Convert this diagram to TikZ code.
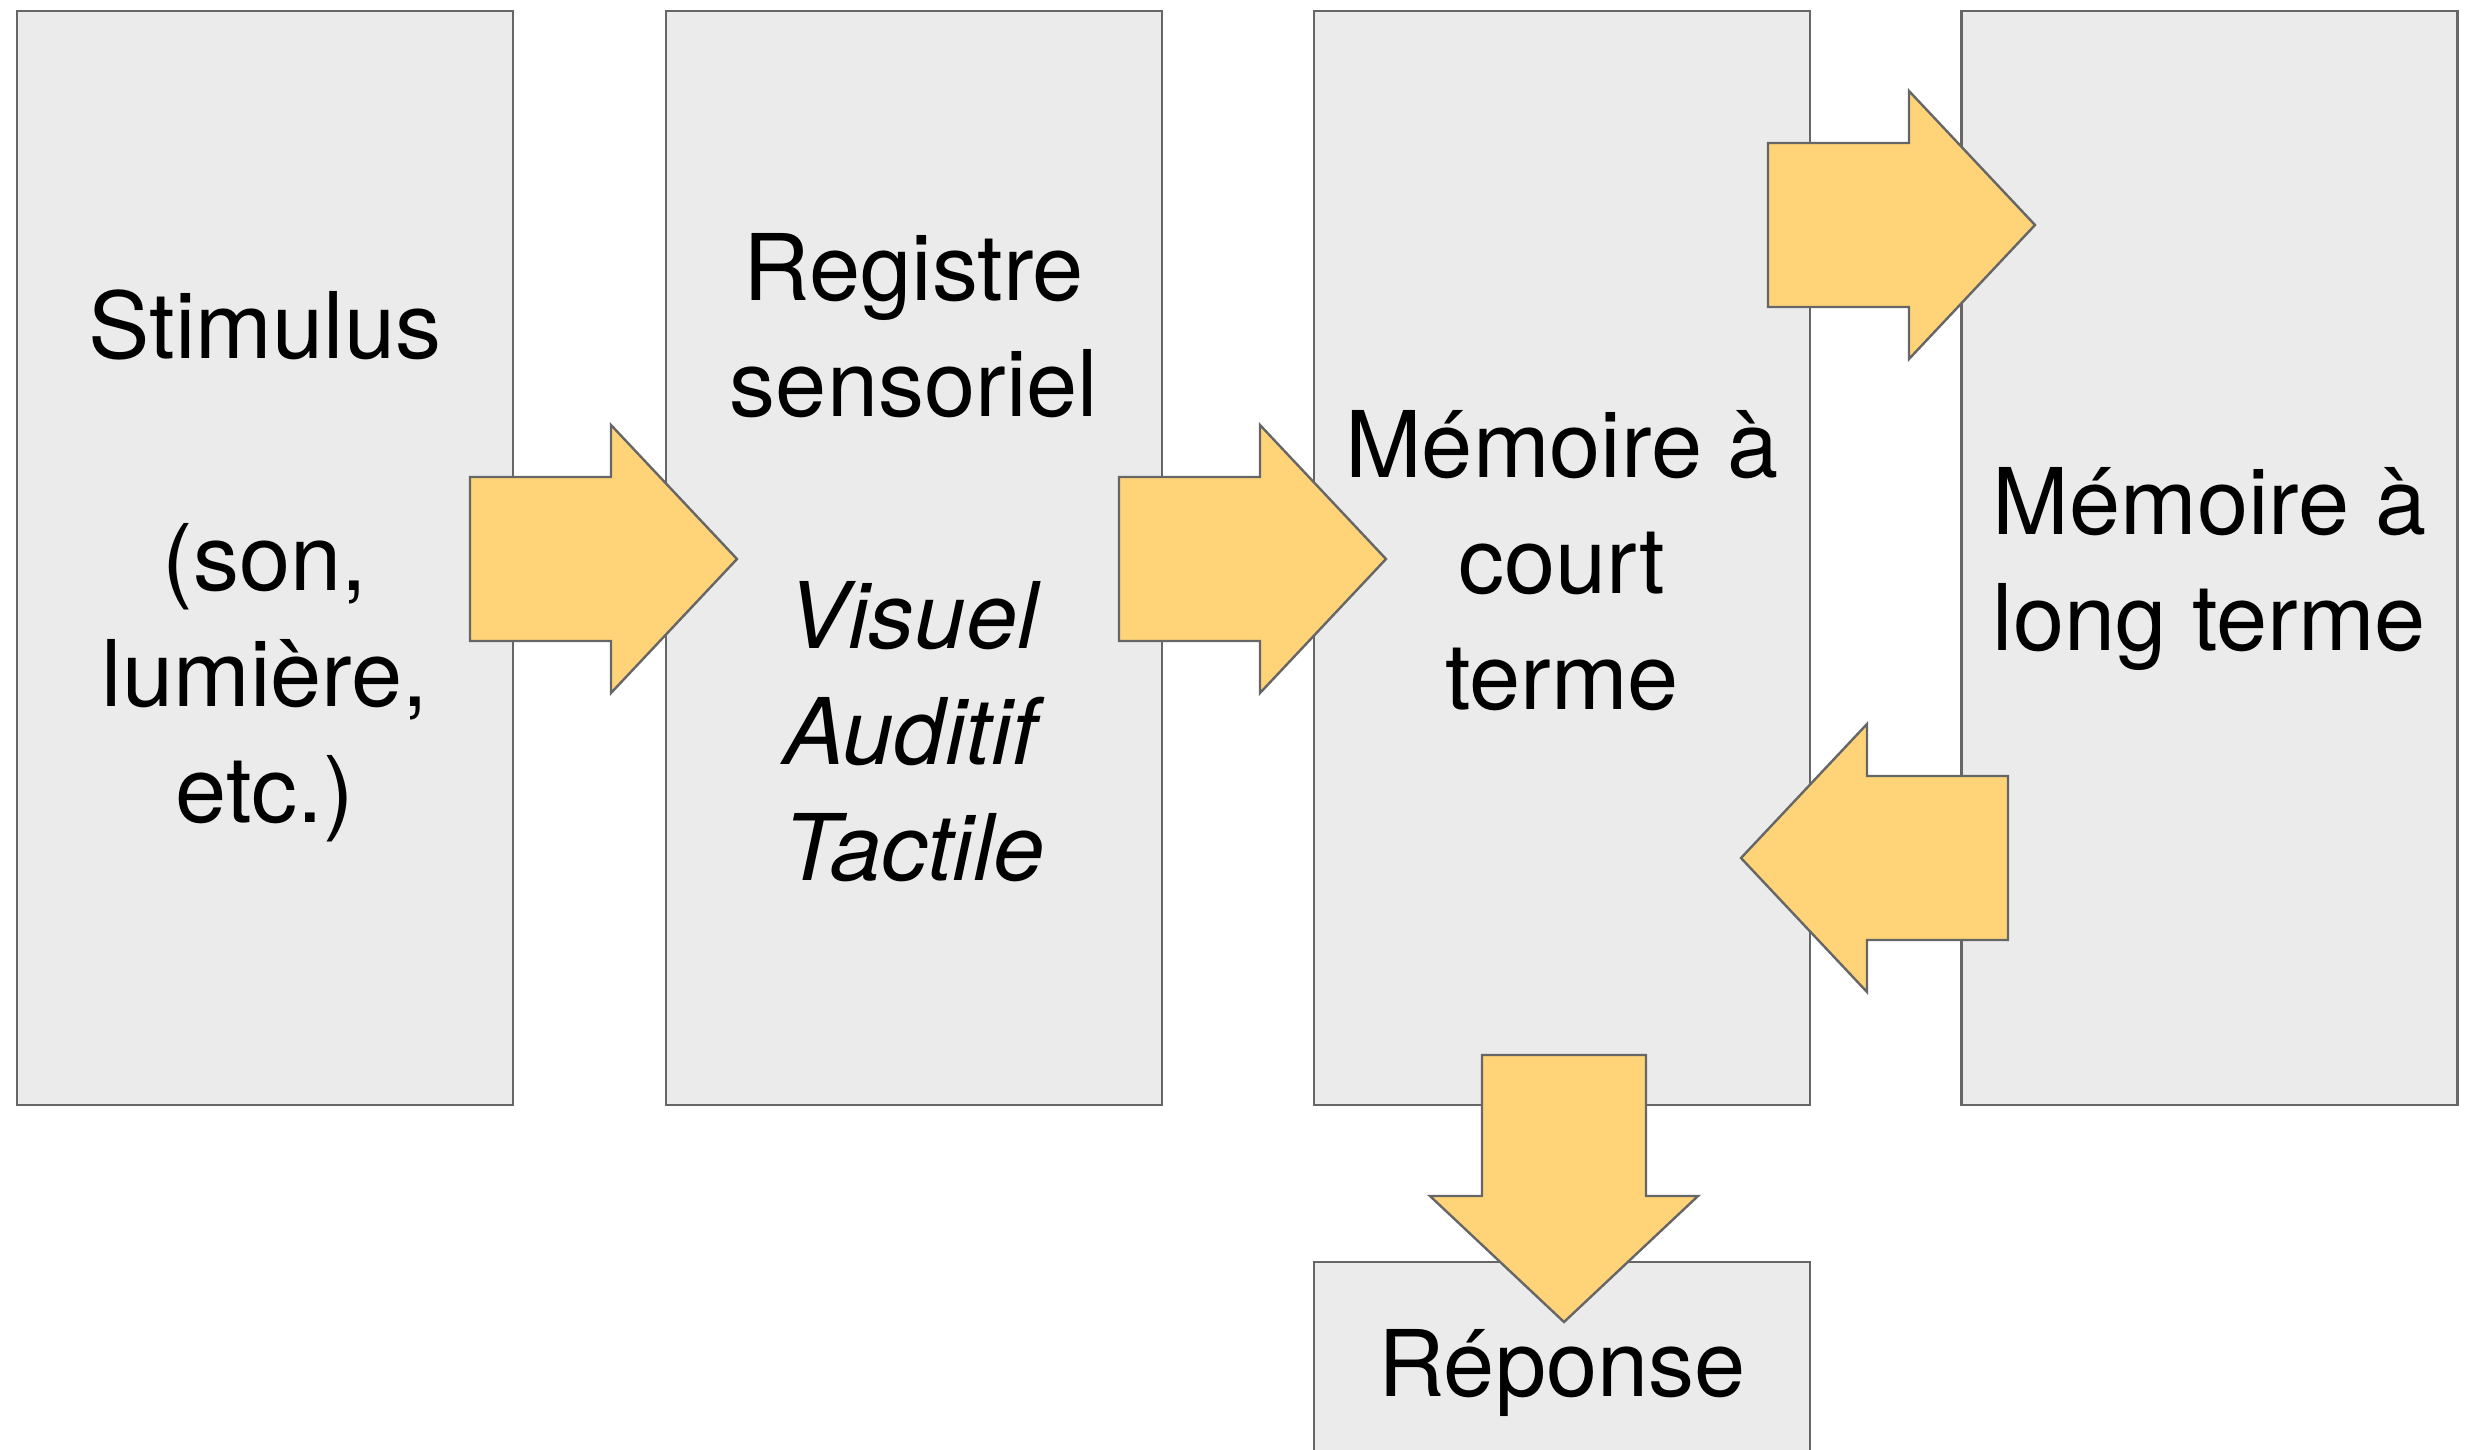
\documentclass[tikz,border=0pt]{standalone}
\usepackage{fontspec}
\setmainfont{TeX Gyre Heros}
\definecolor{boxfill}{HTML}{EBEBEB}
\definecolor{boxline}{HTML}{666666}
\definecolor{arrowfill}{HTML}{FFD479}
\begin{document}
\begin{tikzpicture}[x=0.5pt,y=-0.5pt,
  memorybox/.style={draw=boxline, fill=boxfill, line width=1.2pt, inner sep=0pt,
    minimum width=248pt, minimum height=547pt},
  boxtext/.style={inner sep=0pt, align=center,
    font=\fontsize{46pt}{58pt}\selectfont},
  blockarrow/.style={draw=boxline, fill=arrowfill, line width=1.2pt, line join=miter}]
\useasboundingbox (0,0) rectangle (2468,1450);
\clip (0,0) rectangle (2468,1450);
\node[memorybox] (stim) at (265,558) {};
\node[memorybox] (reg) at (914,558) {};
\node[memorybox] (mct) at (1562,558) {};
\node[memorybox] (mlt) at (2209.5,558) {};
\node[memorybox, minimum height=111pt] (rep) at (1562,1373) {};
\node[boxtext] (stimtext) at ([yshift=-4pt]stim.center) {Stimulus\\[58pt](son,\\lumière,\\etc.)};
\node[boxtext] (regtext) at (reg.center) {Registre\\sensoriel\\[58pt]\textit{Visuel}\\\textit{Auditif}\\\textit{Tactile}};
\node[boxtext] (mcttext) at ([yshift=-1.5pt]mct.center) {Mémoire à\\court\\terme};
\node[boxtext] (mlttext) at ([yshift=-5.5pt]mlt.center) {Mémoire à\\long terme};
\node[boxtext] (reptext) at (rep.center) {Réponse};
% block arrows
\draw[blockarrow] (470,477) -- (611,477) -- (611,425) -- (737,559) -- (611,693) -- (611,641) -- (470,641) -- cycle;
\draw[blockarrow] (1119,477) -- (1260,477) -- (1260,425) -- (1386,559) -- (1260,693) -- (1260,641) -- (1119,641) -- cycle;
\draw[blockarrow] (1768,143) -- (1909,143) -- (1909,91) -- (2035,225) -- (1909,359) -- (1909,307) -- (1768,307) -- cycle;
\draw[blockarrow] (2008,776) -- (1867,776) -- (1867,724) -- (1741,858) -- (1867,992) -- (1867,940) -- (2008,940) -- cycle;
\draw[blockarrow] (1482,1055) -- (1646,1055) -- (1646,1196) -- (1698,1196) -- (1564,1322) -- (1430,1196) -- (1482,1196) -- cycle;
\end{tikzpicture}
\end{document}
